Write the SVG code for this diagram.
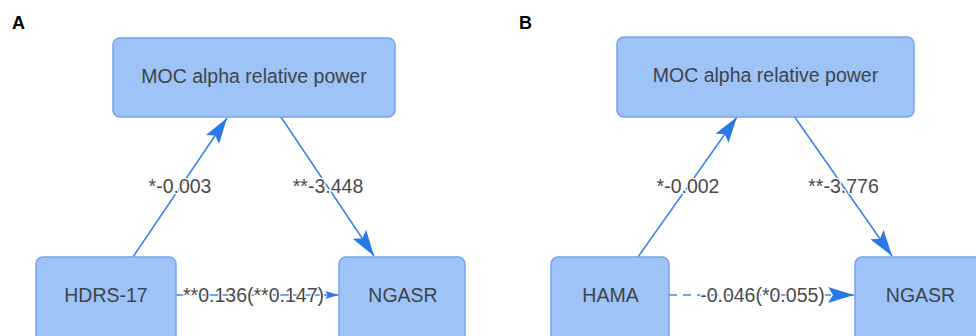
<svg xmlns="http://www.w3.org/2000/svg" width="976" height="336" viewBox="0 0 976 336">
<defs>
<style>
.box{fill:#9dc3f7;stroke:#74a4ec;stroke-width:1.5}
.nt{font-family:"Liberation Sans",Arial,sans-serif;font-size:19.5px;fill:#3f444c;text-anchor:middle}
.lb{font-family:"Liberation Sans",Arial,sans-serif;font-size:19.5px;fill:#4a4a4a;text-anchor:middle;stroke:#fff;stroke-width:2.5;paint-order:stroke;stroke-linejoin:round}
.pl{font-family:"Liberation Sans",Arial,sans-serif;font-size:18px;font-weight:bold;fill:#000}
.ed{fill:none;stroke:#3a84ea;stroke-width:1.6}
</style>
<marker id="ah" viewBox="0 0 26 16" refX="26" refY="8" markerWidth="26" markerHeight="16" markerUnits="userSpaceOnUse" orient="auto">
<path d="M0,0 L26,8 L0,16 L5,8 z" fill="#2a78e6"/>
</marker>
<marker id="ahs" viewBox="0 0 14 8" refX="14" refY="4" markerWidth="14" markerHeight="8" markerUnits="userSpaceOnUse" orient="auto">
<path d="M0,0 L14,4 L0,8 L3,4 z" fill="#2a78e6"/>
</marker>
</defs>
<rect width="976" height="336" fill="#fff"/>
<text class="pl" x="12" y="29">A</text>
<text class="pl" x="519" y="29">B</text>
<g id="connectors">
<line class="ed" x1="133" y1="257" x2="227" y2="118" marker-end="url(#ah)"/>
<line class="ed" x1="281" y1="117" x2="374" y2="256" marker-end="url(#ah)"/>
<line class="ed" x1="176" y1="295" x2="339" y2="295" marker-end="url(#ahs)"/>
<line class="ed" x1="638" y1="257" x2="737" y2="117" marker-end="url(#ah)"/>
<line class="ed" x1="794" y1="116" x2="892" y2="256" marker-end="url(#ah)"/>
<line class="ed" x1="669" y1="295" x2="854" y2="295" stroke-dasharray="8,6" marker-end="url(#ah)"/>
</g>
<g id="A-moc"><rect class="box" x="113" y="38" width="282" height="79" rx="7"/><text class="nt" x="254" y="83">MOC alpha relative power</text></g>
<g id="A-hdrs"><rect class="box" x="36" y="257" width="140" height="90" rx="7"/><text class="nt" x="106" y="302">HDRS-17</text></g>
<g id="A-ngasr"><rect class="box" x="339" y="257" width="126" height="90" rx="7"/><text class="nt" x="403" y="302">NGASR</text></g>
<g id="B-moc"><rect class="box" x="617" y="37" width="297" height="80" rx="7"/><text class="nt" x="765.5" y="82">MOC alpha relative power</text></g>
<g id="B-hama"><rect class="box" x="551" y="257" width="118" height="90" rx="7"/><text class="nt" x="610.5" y="302">HAMA</text></g>
<g id="B-ngasr"><rect class="box" x="855" y="257" width="140" height="90" rx="7"/><text class="nt" x="920.5" y="302">NGASR</text></g>
<g id="labels">
<text class="lb" x="180" y="193">*-0.003</text>
<text class="lb" x="328" y="193">**-3.448</text>
<text class="lb" x="253.5" y="302">**0.136(**0.147)</text>
<text class="lb" x="688" y="193">*-0.002</text>
<text class="lb" x="843.5" y="193">**-3.776</text>
<text class="lb" x="762.5" y="302">-0.046(*0.055)</text>
</g>
</svg>
